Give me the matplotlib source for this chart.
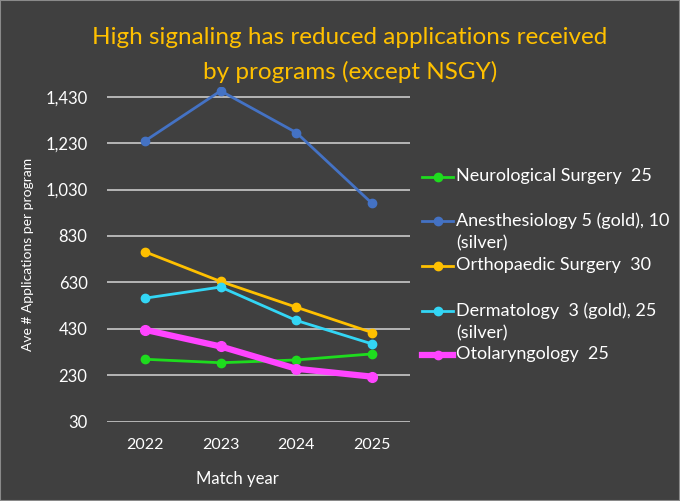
import matplotlib.pyplot as plt
from matplotlib.lines import Line2D
from matplotlib.ticker import FuncFormatter

plt.rcParams['font.family'] = ['Lato', 'DejaVu Sans']

years = ['2022', '2023', '2024', '2025']
neuro = [299, 284, 296, 322]
anesth = [1239, 1455, 1275, 970]
ortho = [762, 634, 523, 414]
derm = [562, 610, 466, 365]
oto = [426, 354, 258, 224]

labels = ['Neurological Surgery  25',
          'Anesthesiology 5 (gold), 10\n(silver)',
          'Orthopaedic Surgery  30',
          'Dermatology  3 (gold), 25\n(silver)',
          'Otolaryngology  25']
series = [neuro, anesth, ortho, derm, oto]
colors = ['#1edc1e', '#4472c4', '#ffc000', '#33d6f5', '#ff44ff']
widths = [2.0, 2.0, 2.0, 2.0, 4.5]
yticks = [30, 230, 430, 630, 830, 1030, 1230, 1430]

bg = '#404040'
W, H = 680, 501
fig = plt.figure(figsize=(6.8, 5.01), dpi=100, facecolor=bg)
fig.patches.append(plt.Rectangle((0, 0), 1, 1, transform=fig.transFigure,
                                 fill=False, edgecolor='#8a8a8a', lw=1.5))
ax = fig.add_axes([107 / W, 1 - 421.7 / H, 303 / W, 334.3 / H], facecolor=bg)

x = range(len(years))
for s, c, w in zip(series, colors, widths):
    ax.plot(x, s, color=c, lw=w, marker='o', ms=6 if w < 3 else 7, zorder=3)

ax.set_xlim(-0.5, 3.5)
ax.set_ylim(30, 1470)
ax.set_yticks(yticks)
ax.yaxis.set_major_formatter(FuncFormatter(lambda v, p: f'{int(v):,}'))
ax.set_xticks(list(x))
ax.set_xticklabels(years)
ax.grid(axis='y', color='#bfbfbf', lw=1.3)
ax.set_axisbelow(True)
for sp in ax.spines.values():
    sp.set_visible(False)
ax.tick_params(colors='white', labelsize=12, length=0)
ax.tick_params(axis='y', pad=14)
ax.tick_params(axis='x', pad=12, labelsize=11.5)
ax.set_xlabel('Match year', color='white', fontsize=12)
ax.xaxis.set_label_coords(0.43, -0.148)
ax.set_ylabel('Ave # Applications per program', color='white', fontsize=10, labelpad=8)

fig.text(350 / W, 1 - 37 / H, 'High signaling has reduced applications received',
         color='#ffc000', fontsize=17.5, ha='center', va='center')
fig.text(350 / W, 1 - 72 / H, 'by programs (except NSGY)',
         color='#ffc000', fontsize=17.5, ha='center', va='center')

# legend built by hand so handles sit on the first text line
ys = [177, 221, 266, 311, 355]
for lab, c, w, yy in zip(labels, colors, widths, ys):
    fy = 1 - yy / H
    fig.add_artist(Line2D([422 / W, 453 / W], [fy, fy], color=c, lw=w,
                          transform=fig.transFigure))
    fig.add_artist(Line2D([437.5 / W], [fy], color=c, marker='o', ms=6,
                          transform=fig.transFigure))
    fig.text(456 / W, fy + 9 / H, lab, color='white', fontsize=13, va='top',
             linespacing=1.5)

fig.savefig('out.png', dpi=100, facecolor=bg)
